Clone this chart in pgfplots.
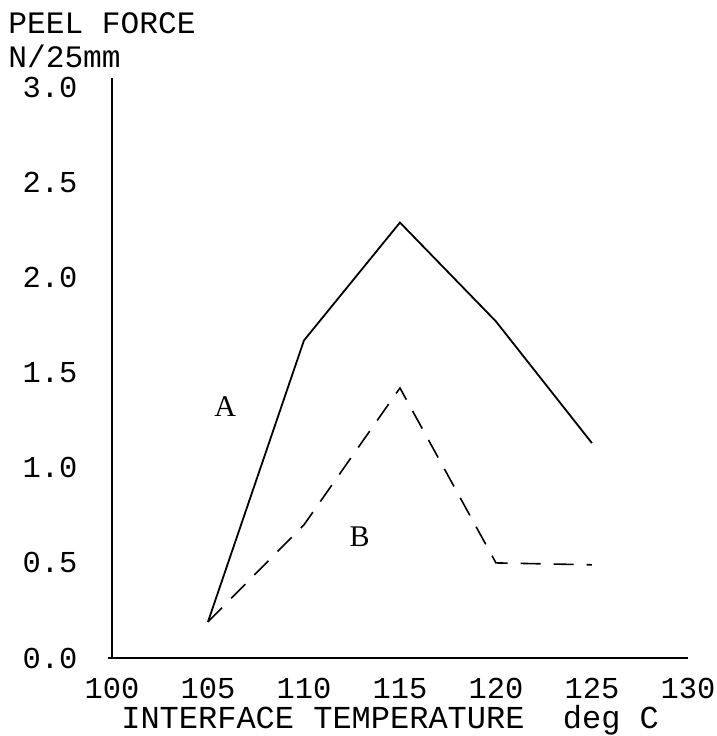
\documentclass[border=0pt]{standalone}
\usepackage{fontspec}
\setmainfont{Liberation Mono}
\newfontfamily\letterfont{Liberation Serif}
\usepackage{pgfplots}
\pgfplotsset{compat=1.18}

\begin{document}
\begin{tikzpicture}
\begin{axis}[
  scale only axis,
  width=288pt, height=290pt,
  xmin=100, xmax=130, ymin=0, ymax=3.05,
  axis x line=bottom, axis y line=left,
  axis line style={-, line width=1.2pt},
  x axis line style={shorten <=-2pt},
  xtick={100,105,...,130},
  ytick={0,0.5,...,3},
  tick style={draw=none},
  /pgf/number format/assume math mode=true,
  tick label style={font=\fontsize{15.2}{16}\selectfont},
  yticklabel style={/pgf/number format/fixed, /pgf/number format/fixed zerofill, /pgf/number format/precision=1, inner sep=0pt, anchor=east, xshift=-15pt},
  xticklabel style={/pgf/number format/1000 sep={}, inner sep=0pt, anchor=north, yshift=-8pt},
  xlabel={INTERFACE TEMPERATURE~~deg C},
  xlabel style={font=\fontsize{16}{17}\selectfont, at={(rel axis cs:0.483,0)}, anchor=base, inner sep=0pt, yshift=-35.5pt},
  ylabel={PEEL FORCE\\[1pt]N/25mm},
  ylabel style={font=\fontsize{15.6}{16}\selectfont, rotate=-90, align=left, inner sep=0pt, at={(rel axis cs:0,1)}, anchor=north west, xshift=-52pt, yshift=33pt},
  clip=false,
]
% curve A
\addplot[black, line width=0.9pt] coordinates {(105,0.19)(110,1.67)(115,2.29)(120,1.77)(125,1.13)};
% curve B
\addplot[black, line width=0.8pt, dash pattern=on 10pt off 6.5pt] coordinates {(105,0.19)(110,0.70)(115,1.42)(120,0.50)(125,0.49)};
\node[font=\fontsize{15}{16}\letterfont] at (axis cs:105.9,1.32) {A};
\node[font=\fontsize{15}{16}\letterfont] at (axis cs:112.9,0.64) {B};
\coordinate (bl) at (rel axis cs:-0.1944,-0.1345);
\coordinate (tr) at (rel axis cs:1.0503,1.1345);
\end{axis}
\pgfresetboundingbox
\path[use as bounding box] (bl) rectangle (tr);
\end{tikzpicture}
\end{document}
